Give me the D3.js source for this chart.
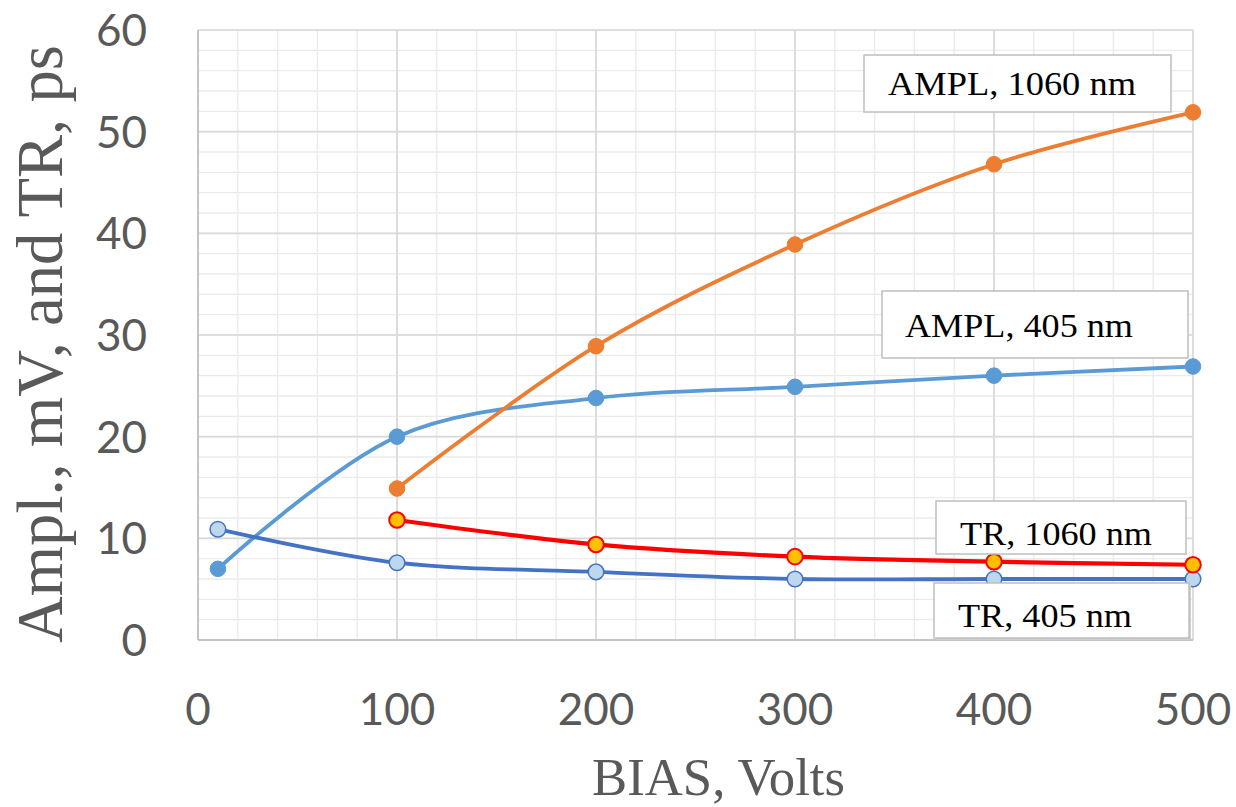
<!DOCTYPE html>
<html>
<head>
<meta charset="utf-8">
<script src="https://cdn.jsdelivr.net/npm/d3@7"></script>
<style>
  html, body { margin: 0; padding: 0; background: #fff; }
  svg { display: block; }
</style>
</head>
<body>
<svg id="chart" width="1236" height="807"></svg>
<script>
// ---- Data ----
const biasTR405 = [10, 100, 200, 300, 400, 500];
const trace405 = [10.9, 7.6, 6.7, 6.0, 6.0, 6.0];
const biasAmpl405 = [10, 100, 200, 300, 400, 500];
const ampl405 = [7.0, 20.0, 23.8, 24.9, 26.0, 26.9];
const bias1060 = [100, 200, 300, 400, 500];
const ampl1060 = [14.9, 28.9, 38.9, 46.8, 51.9];
const tr1060 = [11.8, 9.4, 8.2, 7.7, 7.4];

const xTicks = [0, 100, 200, 300, 400, 500];
const yTicks = [0, 10, 20, 30, 40, 50, 60];
const xTitle = "BIAS, Volts";
const yTitle = "Ampl., mV, and TR, ps";
const labelTexts = ["AMPL, 1060 nm", "AMPL, 405 nm", "TR, 1060 nm", "TR, 405 nm"];

// ---- Layout ----
const svg = d3.select("#chart");
const x = d3.scaleLinear().domain([0, 500]).range([198, 1193]);
const y = d3.scaleLinear().domain([0, 60]).range([640, 30]);

const grid = svg.append("g");
// minor gridlines
grid.selectAll(".mx").data(d3.range(0, 501, 20)).join("line")
  .attr("x1", d => x(d)).attr("x2", d => x(d)).attr("y1", y(0)).attr("y2", y(60))
  .attr("stroke", "#ebebeb").attr("stroke-width", 1.4);
grid.selectAll(".my").data(d3.range(0, 61, 2)).join("line")
  .attr("y1", d => y(d)).attr("y2", d => y(d)).attr("x1", x(0)).attr("x2", x(500))
  .attr("stroke", "#ebebeb").attr("stroke-width", 1.4);
// major gridlines
grid.selectAll(".Mx").data(xTicks).join("line")
  .attr("x1", d => x(d)).attr("x2", d => x(d)).attr("y1", y(0)).attr("y2", y(60))
  .attr("stroke", "#d9d9d9").attr("stroke-width", 1.6);
grid.selectAll(".My").data(yTicks).join("line")
  .attr("y1", d => y(d)).attr("y2", d => y(d)).attr("x1", x(0)).attr("x2", x(500))
  .attr("stroke", "#d9d9d9").attr("stroke-width", 1.6);
// axis lines
svg.append("line").attr("x1", x(0)).attr("x2", x(0)).attr("y1", y(0)).attr("y2", y(60))
  .attr("stroke", "#c4c4c4").attr("stroke-width", 2);
svg.append("line").attr("x1", x(0)).attr("x2", x(500)).attr("y1", y(0)).attr("y2", y(0))
  .attr("stroke", "#c4c4c4").attr("stroke-width", 2);

// tick labels
svg.append("g").selectAll("text").data(xTicks).join("text")
  .attr("x", d => x(d)).attr("y", 725)
  .attr("text-anchor", "middle")
  .attr("font-family", "Lato, 'Open Sans', sans-serif").attr("font-size", 44)
  .attr("fill", "#595959")
  .text(d => d);
svg.append("g").selectAll("text").data(yTicks).join("text")
  .attr("x", 147).attr("y", d => y(d) + 16)
  .attr("text-anchor", "end")
  .attr("font-family", "Lato, 'Open Sans', sans-serif").attr("font-size", 44)
  .attr("fill", "#595959")
  .text(d => d);

// axis titles
svg.append("text")
  .attr("x", 592).attr("y", 795)
  .attr("font-family", "'Liberation Serif', 'Times New Roman', serif").attr("font-size", 52)
  .attr("fill", "#595959")
  .attr("textLength", 253).attr("lengthAdjust", "spacingAndGlyphs")
  .text(xTitle);
svg.append("text")
  .attr("transform", "translate(62,643) rotate(-90)")
  .attr("x", 0).attr("y", 0)
  .attr("font-family", "'Liberation Serif', 'Times New Roman', serif").attr("font-size", 66)
  .attr("fill", "#595959")
  .attr("textLength", 598).attr("lengthAdjust", "spacingAndGlyphs")
  .text(yTitle);

// ---- Series ----
const line = d3.line().x(d => x(d[0])).y(d => y(d[1])).curve(d3.curveCatmullRom.alpha(0.5));

const series = [
  { xs: biasAmpl405, ys: ampl405, color: "#5b9bd5", width: 3.8, fill: "#5b9bd5", stroke: "#5b9bd5", sw: 1 },
  { xs: biasTR405, ys: trace405, color: "#4472c4", width: 3.8, fill: "#bdd7ee", stroke: "#4472c4", sw: 1.5 },
  { xs: bias1060, ys: ampl1060, color: "#ed7d31", width: 3.8, fill: "#ed7d31", stroke: "#ed7d31", sw: 1 },
  { xs: bias1060, ys: tr1060, color: "#ff0000", width: 4.2, fill: "#ffc000", stroke: "#ff0000", sw: 2 }
];

series.forEach(s => {
  const pts = s.xs.map((v, i) => [v, s.ys[i]]);
  svg.append("path").datum(pts)
    .attr("d", line).attr("fill", "none")
    .attr("stroke", s.color).attr("stroke-width", s.width);
  svg.append("g").selectAll("circle").data(pts).join("circle")
    .attr("cx", d => x(d[0])).attr("cy", d => y(d[1])).attr("r", 7.8)
    .attr("fill", s.fill).attr("stroke", s.stroke).attr("stroke-width", s.sw);
});

// ---- Annotation boxes (pixel layout) ----
const boxes = [
  { x0: 864, y0: 55, x1: 1171, y1: 112, tx: 888, ty: 95, tw: 248, shadow: false },
  { x0: 882, y0: 291, x1: 1188, y1: 358, tx: 905, ty: 337, tw: 228, shadow: false },
  { x0: 936, y0: 501, x1: 1186, y1: 554, tx: 960, ty: 545, tw: 192, shadow: false },
  { x0: 934, y0: 583, x1: 1189, y1: 638, tx: 958, ty: 627, tw: 174, shadow: true }
];
boxes.forEach((b, i) => {
  if (b.shadow) {
    svg.append("rect").attr("x", b.x0 + 2).attr("y", b.y0 + 2)
      .attr("width", b.x1 - b.x0).attr("height", b.y1 - b.y0)
      .attr("fill", "#cfcfcf");
  }
  svg.append("rect").attr("x", b.x0).attr("y", b.y0)
    .attr("width", b.x1 - b.x0).attr("height", b.y1 - b.y0)
    .attr("fill", "#ffffff").attr("stroke", "#bfbfbf").attr("stroke-width", 1.5);
  svg.append("text").attr("x", b.tx).attr("y", b.ty)
    .attr("font-family", "'Liberation Serif', 'Times New Roman', serif").attr("font-size", 34)
    .attr("fill", "#000")
    .attr("textLength", b.tw).attr("lengthAdjust", "spacingAndGlyphs")
    .text(labelTexts[i]);
});
</script>
</body>
</html>
